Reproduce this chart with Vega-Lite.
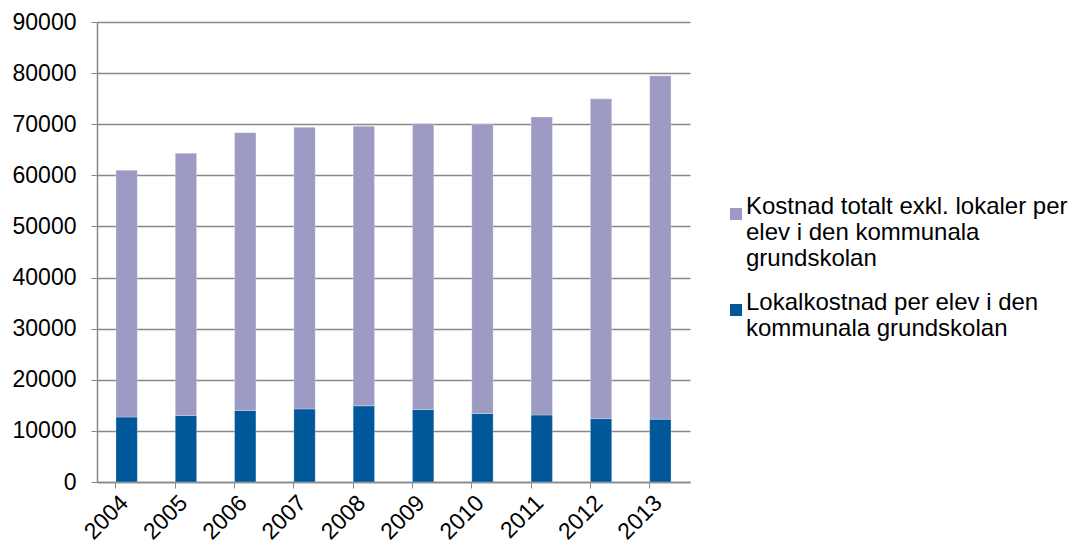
{
  "$schema": "https://vega.github.io/schema/vega-lite/v6.json",
  "autosize": {"type": "none"},
  "width": 593,
  "height": 460,
  "padding": {"left": 97, "top": 22, "right": 382, "bottom": 64},
  "background": "white",
  "config": {
    "view": {"stroke": null},
    "font": "Liberation Sans",
    "axis": {"labelFont": "Liberation Sans", "labelColor": "#000000"}
  },
  "data": {
    "values": [
      {"year": "2004", "series": "Lokalkostnad per elev i den kommunala grundskolan", "value": 12700},
      {"year": "2005", "series": "Lokalkostnad per elev i den kommunala grundskolan", "value": 13000},
      {"year": "2006", "series": "Lokalkostnad per elev i den kommunala grundskolan", "value": 14000},
      {"year": "2007", "series": "Lokalkostnad per elev i den kommunala grundskolan", "value": 14300},
      {"year": "2008", "series": "Lokalkostnad per elev i den kommunala grundskolan", "value": 14900},
      {"year": "2009", "series": "Lokalkostnad per elev i den kommunala grundskolan", "value": 14200},
      {"year": "2010", "series": "Lokalkostnad per elev i den kommunala grundskolan", "value": 13400},
      {"year": "2011", "series": "Lokalkostnad per elev i den kommunala grundskolan", "value": 13100},
      {"year": "2012", "series": "Lokalkostnad per elev i den kommunala grundskolan", "value": 12400},
      {"year": "2013", "series": "Lokalkostnad per elev i den kommunala grundskolan", "value": 12300},
      {"year": "2004", "series": "Kostnad totalt exkl. lokaler per elev i den kommunala grundskolan", "value": 48300},
      {"year": "2005", "series": "Kostnad totalt exkl. lokaler per elev i den kommunala grundskolan", "value": 51300},
      {"year": "2006", "series": "Kostnad totalt exkl. lokaler per elev i den kommunala grundskolan", "value": 54350},
      {"year": "2007", "series": "Kostnad totalt exkl. lokaler per elev i den kommunala grundskolan", "value": 55100},
      {"year": "2008", "series": "Kostnad totalt exkl. lokaler per elev i den kommunala grundskolan", "value": 54700},
      {"year": "2009", "series": "Kostnad totalt exkl. lokaler per elev i den kommunala grundskolan", "value": 55900},
      {"year": "2010", "series": "Kostnad totalt exkl. lokaler per elev i den kommunala grundskolan", "value": 56600},
      {"year": "2011", "series": "Kostnad totalt exkl. lokaler per elev i den kommunala grundskolan", "value": 58330},
      {"year": "2012", "series": "Kostnad totalt exkl. lokaler per elev i den kommunala grundskolan", "value": 62560},
      {"year": "2013", "series": "Kostnad totalt exkl. lokaler per elev i den kommunala grundskolan", "value": 67190}
    ]
  },
  "mark": {"type": "bar", "stroke": "#ffffff", "strokeOpacity": 0.5, "strokeWidth": 0.5},
  "encoding": {
    "x": {
      "field": "year",
      "type": "ordinal",
      "scale": {"paddingInner": 0.64, "paddingOuter": 0.32},
      "axis": {
        "title": null,
        "labelAngle": -45,
        "labelAlign": "right",
        "labelBaseline": "middle",
        "labelFontSize": 23,
        "labelPadding": 11,
        "bandPosition": 0,
        "ticks": true,
        "tickSize": 6,
        "tickColor": "#888888",
        "domainColor": "#888888",
        "domainWidth": 1.5,
        "labelOffset": -2,
        "grid": false
      }
    },
    "y": {
      "field": "value",
      "type": "quantitative",
      "aggregate": "sum",
      "stack": "zero",
      "scale": {"domain": [0, 90000], "nice": false},
      "axis": {
        "title": null,
        "values": [0, 10000, 20000, 30000, 40000, 50000, 60000, 70000, 80000, 90000],
        "format": "d",
        "labelFontSize": 23,
        "labelPadding": 15,
        "tickSize": 6,
        "tickColor": "#888888",
        "domainColor": "#888888",
        "domainWidth": 1.5,
        "grid": true,
        "gridColor": "#888888",
        "gridWidth": 1.5
      }
    },
    "color": {
      "field": "series",
      "type": "nominal",
      "scale": {
        "domain": ["Kostnad totalt exkl. lokaler per elev i den kommunala grundskolan", "Lokalkostnad per elev i den kommunala grundskolan"],
        "range": ["#9d9bc4", "#00589b"]
      },
      "legend": {
        "title": null,
        "orient": "none",
        "legendX": 627,
        "legendY": 180,
        "symbolType": "square",
        "symbolSize": 144,
        "symbolStrokeWidth": 0,
        "labelFontSize": 24,
        "labelFont": "Liberation Sans",
        "labelColor": "#000000",
        "labelLimit": 500,
        "labelBaseline": "alphabetic",
        "labelOffset": -2,
        "rowPadding": 20,
        "encode": {"labels": {"dy": {"value": 8}, "lineHeight": {"value": 25}}},
        "labelExpr": "datum.label == 'Lokalkostnad per elev i den kommunala grundskolan' ? ['Lokalkostnad per elev i den', 'kommunala grundskolan'] : ['Kostnad totalt exkl. lokaler per', 'elev i den kommunala', 'grundskolan']"
      }
    },
    "order": {"field": "series", "sort": "descending"}
  }
}
